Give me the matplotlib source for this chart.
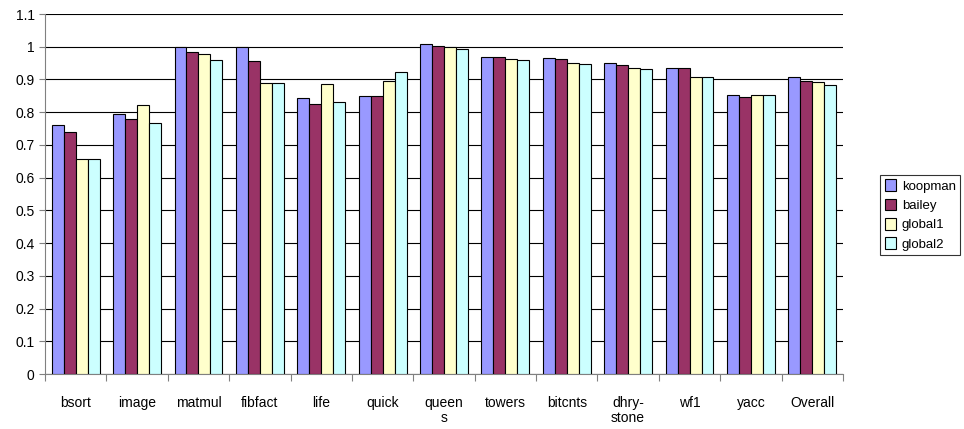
import numpy as np
import matplotlib
matplotlib.use("Agg")
import matplotlib.pyplot as plt

plt.rcParams['font.family'] = ['Liberation Sans', 'DejaVu Sans']

# benchmark names and per-series ratios
benchmarks = ['bsort', 'image', 'matmul', 'fibfact', 'life', 'quick', 'queen\ns',
              'towers', 'bitcnts', 'dhry-\nstone', 'wf1', 'yacc', 'Overall']
series_names = ['koopman', 'bailey', 'global1', 'global2']
koopman = [0.760, 0.794, 1.000, 1.000, 0.843, 0.848, 1.007, 0.970, 0.966, 0.950, 0.934, 0.854, 0.906]
bailey = [0.739, 0.779, 0.985, 0.955, 0.826, 0.848, 1.002, 0.968, 0.962, 0.943, 0.934, 0.847, 0.895]
global1 = [0.658, 0.821, 0.978, 0.890, 0.885, 0.894, 1.000, 0.962, 0.949, 0.936, 0.906, 0.854, 0.891]
global2 = [0.658, 0.766, 0.960, 0.890, 0.830, 0.922, 0.993, 0.958, 0.947, 0.933, 0.906, 0.854, 0.882]
colors = ['#9999ff', '#993366', '#ffffcc', '#ccffff']

fig = plt.figure(figsize=(9.64, 4.29), dpi=100)
ax = fig.add_axes([45 / 964, 1 - 374 / 429, 798 / 964, 360 / 429])

x = np.arange(len(benchmarks))
width = 0.195
for i, (vals, name, c) in enumerate(zip([koopman, bailey, global1, global2], series_names, colors)):
    ax.bar(x + (i - 1.5) * width, vals, width, color=c, edgecolor='black',
           linewidth=0.8, label=name, zorder=3)

ax.set_xlim(-0.5, len(benchmarks) - 0.5)
ax.set_ylim(0, 1.1)
ax.set_yticks(np.arange(0, 1.11, 0.1))
ax.set_yticklabels(['0'] + [f'{v:.1f}'.rstrip('0').rstrip('.') for v in np.arange(0.1, 1.11, 0.1)])
ax.yaxis.grid(True, color='black', linewidth=0.8, zorder=0)

# ticks between groups, labels at group centres
ax.set_xticks(np.arange(-0.5, len(benchmarks)), minor=False)
ax.set_xticklabels([])
ax.set_xticks(x, minor=True)
ax.set_xticklabels(benchmarks, minor=True, fontsize=10, va='top', linespacing=1.1)
ax.tick_params(axis='x', which='major', length=5, direction='out', color='gray')
ax.tick_params(axis='x', which='minor', length=0, pad=16)
ax.tick_params(axis='y', length=4, direction='out', color='gray', labelsize=10)

for s in ['top', 'right']:
    ax.spines[s].set_visible(False)
ax.spines['left'].set_color('gray')
ax.spines['bottom'].set_color('gray')

leg = ax.legend(loc='center left', bbox_to_anchor=(880 / 964, 1 - 215 / 429),
                bbox_transform=fig.transFigure, borderaxespad=0, fontsize=9.5, frameon=True,
                fancybox=False, edgecolor='black', handlelength=0.9, handleheight=1.0,
                handletextpad=0.4, labelspacing=0.45, borderpad=0.35)
leg.get_frame().set_linewidth(0.8)

plt.savefig('out.png', dpi=100)
